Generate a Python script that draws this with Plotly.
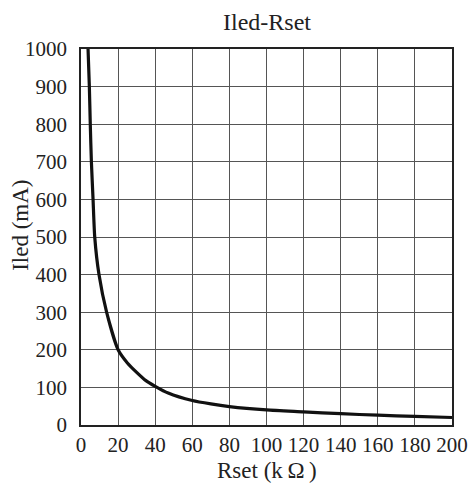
import plotly.graph_objects as go

# values
rset = [3.8, 4.5, 5.0, 5.6, 6.5, 7.4, 9.7, 13.8, 20, 25, 30, 35, 40, 47, 60, 70, 80, 100, 120, 140, 160, 180, 200]
iled = [1000, 900, 800, 700, 600, 500, 400, 300, 200, 165, 140, 118, 103, 85, 65, 56, 49, 40, 35, 30, 26, 23, 20]

x_ticks = [0, 20, 40, 60, 80, 100, 120, 140, 160, 180, 200]
y_ticks = [0, 100, 200, 300, 400, 500, 600, 700, 800, 900, 1000]

font = "Liberation Serif"
ink = '#222222'

fig = go.Figure(go.Scatter(
    x=rset, y=iled, mode='lines',
    line=dict(color='#111111', width=3.2, shape='spline', smoothing=0.6),
    hoverinfo='skip'
))

fig.update_layout(
    width=471, height=490,
    paper_bgcolor='white', plot_bgcolor='white',
    margin=dict(l=81, r=19, t=49, b=65, autoexpand=False),
    showlegend=False,
    font=dict(family=font, size=21, color=ink),
)

labels = [
    dict(text='Iled-Rset', x=0.5, y=1.072, size=24, angle=0),
    dict(text='Rset (k\u2009\u03a9\u2009)', x=0.5, y=-0.122, size=23, angle=0),
    dict(text='Iled (mA)', x=-0.162, y=0.532, size=23, angle=-90),
]
for lab in labels:
    fig.add_annotation(
        text=lab['text'], x=lab['x'], y=lab['y'], xref='paper', yref='paper',
        xanchor='center', yanchor='middle', showarrow=False, textangle=lab['angle'],
        font=dict(family=font, size=lab['size'], color=ink),
    )

fig.update_xaxes(
    range=[0, 200], tickvals=x_ticks, ticks='', automargin=False, tickangle=0,
    tickfont=dict(family=font, size=21, color=ink),
    ticklabelstandoff=0,
    showgrid=True, gridcolor='#555555', gridwidth=1,
    showline=True, linecolor=ink, linewidth=1.5, mirror=True,
    zeroline=False,
)
fig.update_yaxes(
    range=[0, 1000], tickvals=y_ticks, ticks='', automargin=False,
    tickfont=dict(family=font, size=21, color=ink),
    ticklabelstandoff=8,
    showgrid=True, gridcolor='#555555', gridwidth=1,
    showline=True, linecolor=ink, linewidth=1.5, mirror=True,
    zeroline=False,
)

config = {
    'displayModeBar': False,
    'scrollZoom': False,
}

# drop the page's default body margin so the figure sits at the window's corner
fig.write_html("out.html", config=config, post_script="document.body.style.margin='0';")
